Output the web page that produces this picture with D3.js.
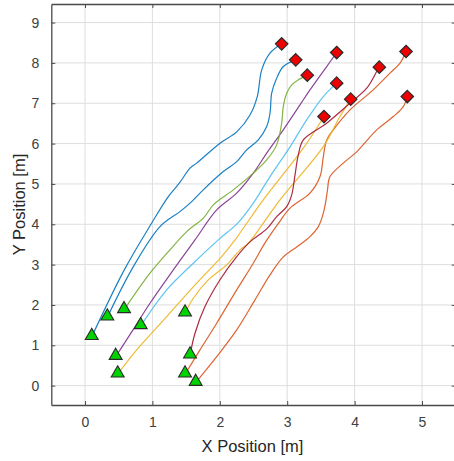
<!DOCTYPE html>
<html>
<head>
<meta charset="utf-8">
<script src="https://cdn.jsdelivr.net/npm/d3@7"></script>
<style>
  html, body { margin: 0; padding: 0; background: #fff; }
  svg { display: block; font-family: "Liberation Sans", Arial, sans-serif; }
</style>
</head>
<body>
<svg id="chart" width="454" height="461"></svg>
<script>
// ---- Data ----
const xTicks = [0, 1, 2, 3, 4, 5];
const yTicks = [0, 1, 2, 3, 4, 5, 6, 7, 8, 9];
const xLabel = "X Position [m]";
const yLabel = "Y Position [m]";

const track1 = [[0.10,1.21],[0.583,2.869],[0.99,4.03],[1.236,4.686],[1.399,5.019],[1.558,5.39],[1.657,5.515],[2.003,6.01],[2.251,6.29],[2.448,6.71],[2.556,7.166],[2.622,7.828],[2.745,8.242],[2.918,8.473]];
const track2 = [[0.331,1.696],[0.717,2.951],[1.113,3.943],[1.409,4.314],[1.583,4.562],[1.755,4.853],[2.052,5.306],[2.251,5.554],[2.399,5.844],[2.571,6.092],[2.696,6.422],[2.745,6.754],[2.77,7.25],[2.834,7.58],[2.942,7.91],[3.126,8.076]];
const track3 = [[1.484,0.283],[1.706,0.885],[1.954,1.547],[2.251,2.373],[2.497,3.035],[2.671,3.538],[2.864,4.009],[3.042,4.399],[3.338,4.771],[3.487,5.182],[3.536,5.678],[3.586,6.092],[3.684,6.34],[3.932,6.836],[4.277,7.332],[4.525,7.746],[4.674,7.994],[4.763,8.282]];
const track4 = [[1.642,0.074],[1.954,0.719],[2.251,1.381],[2.522,2.125],[2.745,2.745],[2.942,3.191],[3.141,3.439],[3.338,3.695],[3.462,3.942],[3.536,4.275],[3.576,4.605],[3.598,4.853],[3.635,5.182],[3.832,5.515],[4.031,5.795],[4.328,6.34],[4.574,6.67],[4.723,6.918],[4.782,7.166]];
const track5 = [[0.485,0.283],[0.767,0.885],[1.212,1.711],[1.657,2.539],[2.028,3.199],[2.226,3.613],[2.645,4.605],[3.239,5.886],[3.546,6.67]];
const track6 = [[1.484,1.795],[1.607,2.167],[1.829,2.621],[2.102,2.993],[2.3,3.365],[2.423,3.531],[2.893,4.605],[3.536,5.926],[3.783,6.67],[3.942,7.101]];
const track7 = [[0.455,0.719],[0.712,1.381],[0.964,2.043],[1.31,2.869],[1.632,3.613],[1.954,4.357],[2.251,4.771],[2.497,5.267],[2.696,5.763],[2.942,6.34],[3.19,6.96],[3.338,7.33],[3.586,7.91],[3.734,8.257]];
const track8 = [[0.579,1.877],[0.964,2.787],[1.261,3.365],[1.509,3.819],[1.755,4.151],[1.904,4.481],[2.2,4.853],[2.497,5.267],[2.696,5.596],[2.844,5.968],[2.918,6.506],[2.942,6.918],[2.993,7.25],[3.067,7.456],[3.165,7.58],[3.298,7.696]];
const track9 = [[0.826,1.48],[1.212,2.373],[1.607,3.035],[1.978,3.613],[2.27,4.034],[2.497,4.523],[2.745,5.182],[3.042,5.919],[3.289,6.588],[3.536,7.166],[3.734,7.498]];
const track10 = [[1.558,0.754],[1.632,1.299],[1.78,1.959],[2.003,2.625],[2.251,3.199],[2.448,3.563],[2.696,3.885],[2.844,4.19],[2.993,4.438],[3.067,4.729],[3.116,5.224],[3.165,5.72],[3.239,6.092],[3.586,6.506],[3.932,7.002],[4.18,7.374],[4.328,7.786],[4.367,7.895]];

const tracks = [track1, track2, track3, track4, track5, track6, track7, track8, track9, track10];
const trackColors = ["#0072BD","#0072BD","#D95319","#D95319","#EDB120","#EDB120","#7E2F8E","#77AC30","#4DBEEE","#A2142F"];

// ---- Layout ----
const svg = d3.select("#chart");
const x = d3.scaleLinear().domain([-0.5, 5.5]).range([51.3, 455.7]);
const y = d3.scaleLinear().domain([-0.48, 9.46]).range([405, 4]);
const X0 = x.range()[0], X1 = x.range()[1], Y0 = y.range()[0], Y1 = y.range()[1];

// grid
const grid = svg.append("g");
grid.selectAll("line.gx").data(xTicks).join("line")
  .attr("x1", d => x(d)).attr("x2", d => x(d)).attr("y1", Y1).attr("y2", Y0)
  .attr("stroke", "#dedede").attr("stroke-width", 1);
grid.selectAll("line.gy").data(yTicks).join("line")
  .attr("y1", d => y(d)).attr("y2", d => y(d)).attr("x1", X0).attr("x2", X1)
  .attr("stroke", "#dedede").attr("stroke-width", 1);

// tracks
const line = d3.line().x(d => x(d[0])).y(d => y(d[1])).curve(d3.curveCatmullRom.alpha(0.5));
svg.append("g").selectAll("path").data(tracks).join("path")
  .attr("d", line).attr("fill", "none")
  .attr("stroke", (d, i) => trackColors[i]).attr("stroke-width", 1.2)
  .attr("stroke-opacity", 0.9);

// axes
const axisColor = "#4a4a4a";
const gxB = svg.append("g").attr("transform", `translate(0,${Y0})`)
  .call(d3.axisBottom(x).tickValues(xTicks).tickSizeInner(-4).tickSizeOuter(0).tickPadding(12).tickFormat(d3.format("d")));
const gxT = svg.append("g").attr("transform", `translate(0,${Y1})`)
  .call(d3.axisTop(x).tickValues(xTicks).tickSizeInner(-4).tickSizeOuter(0).tickFormat(""));
const gyL = svg.append("g").attr("transform", `translate(${X0},0)`)
  .call(d3.axisLeft(y).tickValues(yTicks).tickSizeInner(-4).tickSizeOuter(0).tickPadding(12).tickFormat(d3.format("d")));
const gyR = svg.append("g").attr("transform", `translate(${X1},0)`)
  .call(d3.axisRight(y).tickValues(yTicks).tickSizeInner(-4).tickSizeOuter(0).tickFormat(""));
[gxB, gxT, gyL, gyR].forEach(g => {
  g.select(".domain").attr("stroke", axisColor).attr("stroke-width", 1.3);
  g.selectAll(".tick line").attr("stroke", axisColor);
  g.selectAll(".tick text").attr("fill", "#404040").attr("font-size", 14)
    .attr("font-family", "Liberation Sans, Arial, sans-serif");
});

// markers
const diamond = d3.symbol().type({
  draw(ctx, size) { const r = Math.sqrt(size / 2); ctx.moveTo(0, -r); ctx.lineTo(r, 0); ctx.lineTo(0, r); ctx.lineTo(-r, 0); ctx.closePath(); }
}).size(78);
const tri = d3.symbol().type(d3.symbolTriangle).size(72);
svg.append("g").selectAll("path").data(tracks).join("path")
  .attr("d", diamond)
  .attr("transform", d => `translate(${x(d[d.length-1][0])},${y(d[d.length-1][1])})`)
  .attr("fill", "#ee0000").attr("stroke", "#2a2a2a").attr("stroke-width", 1.2);
svg.append("g").selectAll("path").data(tracks).join("path")
  .attr("d", tri)
  .attr("transform", d => `translate(${x(d[0][0])},${y(d[0][1]) - 1})`)
  .attr("fill", "#00d400").attr("stroke", "#2a2a2a").attr("stroke-width", 1.1);

// axis labels
svg.append("text").attr("x", (X0 + X1) / 2 - 1).attr("y", 452)
  .attr("text-anchor", "middle").attr("font-size", 16.5).attr("fill", "#262626")
  .text(xLabel);
svg.append("text").attr("transform", `translate(25,${(Y0 + Y1) / 2}) rotate(-90)`)
  .attr("text-anchor", "middle").attr("font-size", 16.5).attr("fill", "#262626")
  .text(yLabel);
</script>
</body>
</html>
